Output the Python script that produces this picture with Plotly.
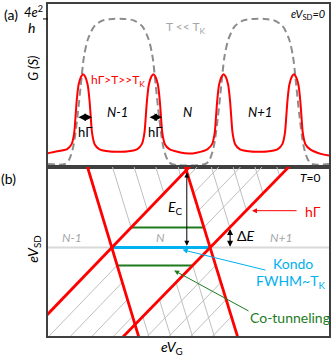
import plotly.graph_objects as go

# ---- panel (a): conductance vs gate voltage (G in units of 4e^2/h) ----
red_x = [0.0, 0.29, 0.68, 0.84, 0.93, 0.98, 1.02, 1.09, 1.18, 1.25, 1.32, 1.41, 1.48, 1.52, 1.57, 1.66, 1.82, 2.21, 2.5,
         2.79, 3.18, 3.34, 3.43, 3.48, 3.52, 3.59, 3.68, 3.75, 3.82, 3.91, 3.98, 4.02, 4.07, 4.16, 4.32, 4.71, 5.0,
         5.29, 5.68, 5.84, 5.93, 5.98, 6.02, 6.09, 6.18, 6.25, 6.32, 6.41, 6.48, 6.52, 6.57, 6.66, 6.82, 7.21, 7.5,
         7.79, 8.18, 8.34, 8.43, 8.48, 8.52, 8.59, 8.68, 8.75, 8.82, 8.91, 8.98, 9.02, 9.07, 9.16, 9.32, 9.71, 10.0]
red_g = [0.075, 0.086, 0.103, 0.137, 0.212, 0.329, 0.432, 0.548, 0.603, 0.618, 0.603, 0.548, 0.432, 0.329, 0.212, 0.137, 0.103, 0.086, 0.085,
         0.086, 0.103, 0.137, 0.212, 0.329, 0.432, 0.548, 0.603, 0.618, 0.603, 0.548, 0.432, 0.329, 0.212, 0.137, 0.103, 0.080, 0.072,
         0.078, 0.103, 0.137, 0.212, 0.329, 0.432, 0.548, 0.603, 0.618, 0.603, 0.548, 0.432, 0.329, 0.212, 0.137, 0.103, 0.086, 0.085,
         0.086, 0.103, 0.137, 0.212, 0.329, 0.432, 0.548, 0.603, 0.618, 0.603, 0.548, 0.432, 0.329, 0.212, 0.137, 0.103, 0.070, 0.058]

kondo_x = [0, 0.6, 0.75, 0.9, 1.05, 1.17, 1.28, 1.42, 1.65, 1.95, 2.3, 2.7, 3.05, 3.35, 3.58, 3.72, 3.83, 3.95, 4.1, 4.25, 4.4,
           5.6, 5.75, 5.9, 6.05, 6.17, 6.28, 6.42, 6.65, 6.95, 7.3, 7.7, 8.05, 8.35, 8.58, 8.72, 8.83, 8.95, 9.1, 9.25, 9.4, 10]
kondo_g = [0, 0, 0.03, 0.12, 0.33, 0.55, 0.74, 0.86, 0.95, 0.99, 1.0, 1.0, 0.99, 0.95, 0.86, 0.74, 0.55, 0.33, 0.12, 0.03, 0,
           0, 0.03, 0.12, 0.33, 0.55, 0.74, 0.86, 0.95, 0.99, 1.0, 1.0, 0.99, 0.95, 0.86, 0.74, 0.55, 0.33, 0.12, 0.03, 0, 0]

# ---- panel (b): stability diagram (eVG, eVSD) ----
edge_x = [[1.37, 3.26], [-0.1, 5.2], [4.85, 6.78], [2.57, 8.68]]
edge_y = [[3.0, -3.3], [-2.48, 3.06], [3.0, -3.3], [-3.3, 3.0]]

kondo_line_x = [2.27, 5.77]
cotun_x = [[2.96, 5.55], [2.46, 5.15]]
cotun_y = [0.72, -0.64]

# excited-state hatching segments
hatch_x0 = [2.26, 3.03, 3.80, 4.61,
            2.46, 2.644, 2.827, 3.01,
            6.469, 7.061, 7.653, 8.246,
            5.549, 5.362, 5.175, 4.988,
            5.149, 4.556, 3.964, 3.372,
            5.966, 6.153, 6.340, 6.528]
hatch_y0 = [3.0, 3.0, 3.0, 3.0,
            -0.64, -1.25, -1.86, -2.47,
            0.72, 1.33, 1.94, 2.55,
            0.72, 1.33, 1.94, 2.55,
            -0.64, -1.25, -1.86, -2.47,
            -0.64, -1.25, -1.86, -2.47]
hatch_x1 = [2.956, 3.540, 4.125, 4.71,
            -0.2, 0.587, 1.353, 2.12,
            5.778, 6.555, 7.332, 8.110,
            7.731, 6.960, 6.189, 5.419,
            5.985, 5.208, 4.431, 3.654,
            3.325, 4.096, 4.866, 5.638]
hatch_y1 = [0.718, 1.33, 1.94, 2.55,
            -3.42, -3.4, -3.4, -3.4,
            3.0, 3.0, 3.0, 3.0,
            3.0, 3.0, 3.0, 3.0,
            -3.4, -3.4, -3.4, -3.4,
            -3.4, -3.4, -3.4, -3.4]

RED = '#ff0000'
CYAN = '#00b0f0'
GREEN = '#1e7b1e'
GREY_TXT = '#a6a6a6'
FONT = 'Lato, sans-serif'

fig = go.Figure()

fig.add_trace(go.Scatter(x=kondo_x, y=kondo_g, mode='lines', xaxis='x', yaxis='y',
                         line=dict(color='#8c8c8c', width=2, dash='7px,4px', shape='spline', smoothing=0.8)))
fig.add_trace(go.Scatter(x=red_x, y=red_g, mode='lines', xaxis='x', yaxis='y',
                         line=dict(color=RED, width=2, shape='spline', smoothing=0.8)))

fig.add_trace(go.Scatter(x=[0, 10], y=[0, 0], mode='lines', xaxis='x2', yaxis='y2',
                         line=dict(color='#d9d9d9', width=2)))

hx, hy = [], []
for a, b, c, d in zip(hatch_x0, hatch_y0, hatch_x1, hatch_y1):
    hx += [a, c, None]
    hy += [b, d, None]
fig.add_trace(go.Scatter(x=hx, y=hy, mode='lines', xaxis='x2', yaxis='y2',
                         line=dict(color='#bfbfbf', width=1)))

for xs, yv in zip(cotun_x, cotun_y):
    fig.add_trace(go.Scatter(x=xs, y=[yv, yv], mode='lines', xaxis='x2', yaxis='y2',
                             line=dict(color=GREEN, width=2)))
fig.add_trace(go.Scatter(x=kondo_line_x, y=[0, 0], mode='lines', xaxis='x2', yaxis='y2',
                         line=dict(color=CYAN, width=3)))
for xs, ys in zip(edge_x, edge_y):
    fig.add_trace(go.Scatter(x=xs, y=ys, mode='lines', xaxis='x2', yaxis='y2',
                             line=dict(color=RED, width=2.8)))

ann = []


def label(text, x, y, ref='paper', size=13, color='black', **kw):
    xr, yr = ('paper', 'paper') if ref == 'paper' else (ref, ref.replace('x', 'y'))
    d = dict(text=text, x=x, y=y, xref=xr, yref=yr, showarrow=False,
             xanchor='center', yanchor='middle',
             font=dict(family=FONT, size=size, color=color))
    d.update(kw)
    ann.append(d)


def arrow(x, y, ax, ay, ref, color='black', both=False, width=1.2):
    yr = ref.replace('x', 'y')
    ann.append(dict(x=x, y=y, ax=ax, ay=ay, xref=ref, yref=yr, axref=ref, ayref=yr,
                    text='', showarrow=True, arrowhead=2, arrowsize=1, arrowwidth=width,
                    arrowcolor=color, arrowside='end+start' if both else 'end',
                    standoff=0, startstandoff=0))


# panel (a) labels
label('(a)', -0.132, 0.967, size=14)
label('<i>4e</i><sup>2</sup>', -0.05, 0.976, size=13)
label('<i>h</i>', -0.059, 0.93, size=14)
label('<i>G (S)</i>', -0.053, 0.805, size=13, textangle=-90)
label('<i>eV</i><sub>SD</sub><i>=0</i>', 0.993, 0.967, size=11, xanchor='right')
label('T &lt;&lt; T<sub>K</sub>', 0.491, 0.928, size=12, color=GREY_TXT)
label('hΓ&gt;T&gt;&gt;T<sub>K</sub>', 0.249, 0.769, size=12, color=RED)
label('<i>N-1</i>', 0.249, 0.674)
label('<i>N</i>', 0.498, 0.674)
label('<i>N+1</i>', 0.754, 0.674)
label('hΓ', 0.130, 0.614)
label('hΓ', 0.381, 0.614)
arrow(1.57, 0.322, 1.03, 0.322, 'x', both=True, width=1.5)
arrow(4.06, 0.322, 3.56, 0.322, 'x', both=True, width=1.5)

# panel (b) labels
label('(b)', -0.139, 0.473, size=14)
label('<i>T</i>=0', 0.979, 0.476, size=12, xanchor='right')
label('<i>eV</i><sub>SD</sub>', -0.05, 0.263, size=14, textangle=-90)
label('<i>eV</i><sub>G</sub>', 0.441, -0.036, size=14)
label('<i>N-1</i>', 0.854, 0.356, ref='x2', size=12, color=GREY_TXT)
label('<i>N</i>', 3.99, 0.356, ref='x2', size=12, color=GREY_TXT)
label('<i>N+1</i>', 8.29, 0.356, ref='x2', size=12, color=GREY_TXT)
label('<i>E</i><sub>C</sub>', 4.52, 1.42, ref='x2', size=14)
label('Δ<i>E</i>', 7.05, 0.43, ref='x2', size=14)
label('hΓ', 9.43, 1.28, ref='x2', size=14, color=RED)
label('Kondo', 8.72, -0.57, ref='x2', size=14, color=CYAN)
label('FWHM~T<sub>K</sub>', 8.65, -1.21, ref='x2', size=14, color=CYAN)
label('Co-tunneling', 8.61, -2.49, ref='x2', size=14, color=GREEN)

arrow(4.94, 0.06, 4.94, 2.74, 'x2', both=True, width=1)
arrow(6.48, 0.03, 6.48, 0.72, 'x2', both=True, width=1.2)
arrow(7.26, 1.32, 8.90, 1.32, 'x2', color=RED, width=1)
arrow(4.79, -0.08, 7.79, -0.82, 'x2', color=CYAN, width=1)
arrow(4.49, -0.82, 7.19, -2.30, 'x2', color=GREEN, width=1)

axis_style = dict(showgrid=False, zeroline=False, showticklabels=False, ticks='',
                  showline=True, mirror=True, linecolor='#404040', linewidth=1.5)

fig.update_layout(
    width=333, height=359,
    margin=dict(l=48, r=4, t=2, b=23),
    paper_bgcolor='white', plot_bgcolor='white',
    showlegend=False,
    xaxis=dict(domain=[0, 1], range=[0, 10], anchor='y', **axis_style),
    yaxis=dict(domain=[0.509, 1], range=[-0.0205, 1.103], anchor='x', **axis_style),
    xaxis2=dict(domain=[0, 1], range=[0, 10], anchor='y2', **axis_style),
    yaxis2=dict(domain=[0, 0.509], range=[-3.167, 2.883], anchor='x2', **axis_style),
    annotations=ann,
    shapes=[dict(type='line', xref='paper', yref='paper', x0=-0.0178, x1=0, y0=0.955, y1=0.955,
                 line=dict(color='black', width=1))],
)

fig.write_html("out.html", config={'displayModeBar': False},
               post_script="document.body.style.margin='0';document.body.style.overflow='hidden';")
